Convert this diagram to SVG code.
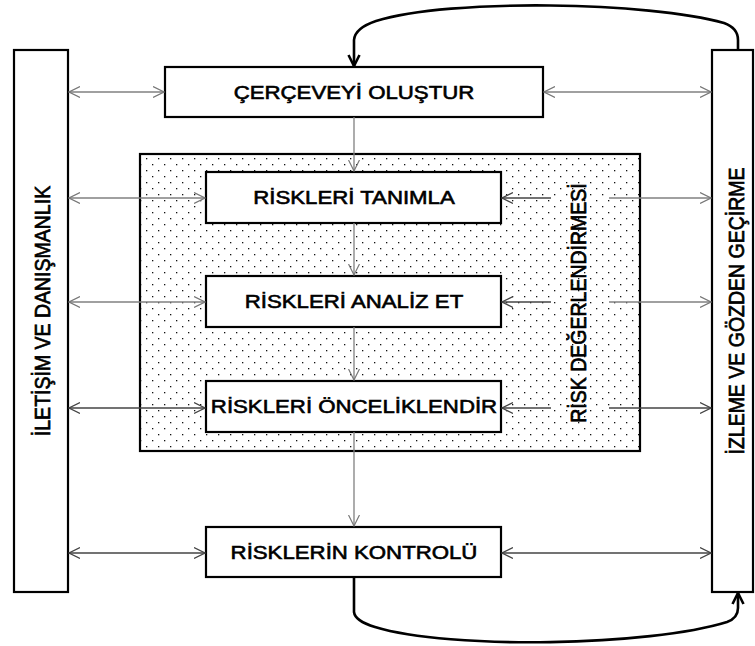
<svg xmlns="http://www.w3.org/2000/svg" width="755" height="646" viewBox="0 0 755 646">
  <defs>
    <pattern id="stipple" width="12" height="12" patternUnits="userSpaceOnUse">
      <rect width="12" height="12" fill="#ffffff"/>
      <rect x="2" y="2" width="1.3" height="1.3" fill="#111"/>
      <rect x="8" y="8" width="1.3" height="1.3" fill="#111"/>
    </pattern>
    <marker id="chev" viewBox="0 0 12 12" refX="11" refY="6" markerWidth="12" markerHeight="12" markerUnits="userSpaceOnUse" orient="auto-start-reverse">
      <path d="M0,0.5 L11,6 L0,11.5" fill="none" stroke="#777" stroke-width="1.2"/>
    </marker>
    <marker id="chevDark" viewBox="0 0 12 12" refX="11" refY="6" markerWidth="12" markerHeight="12" markerUnits="userSpaceOnUse" orient="auto-start-reverse">
      <path d="M0,0.5 L11,6 L0,11.5" fill="none" stroke="#444" stroke-width="1.2"/>
    </marker>
    <marker id="bold" viewBox="0 0 14 14" refX="12" refY="7" markerWidth="14" markerHeight="14" markerUnits="userSpaceOnUse" orient="auto">
      <path d="M1,1.5 L12,7 L1,12.5" fill="none" stroke="#000" stroke-width="2.6"/>
    </marker>
  </defs>
  <style>
    .box { fill: #ffffff; stroke: #000; stroke-width: 2.2; }
    .zone { fill: url(#stipple); stroke: #000; stroke-width: 2.2; }
    .lbl { font-family: "Liberation Sans", Arial, sans-serif; font-weight: normal; font-size: 19px; fill: #000; stroke: #000; stroke-width: 0.6; }
    .vlbl { font-size: 19.5px; }
    .link { fill: none; stroke: #808080; stroke-width: 1.3; }
    .linkDark { fill: none; stroke: #444; stroke-width: 1.3; }
    .loop { fill: none; stroke: #000; stroke-width: 2.6; }
  </style>

  <!-- risk assessment zone -->
  <g id="risk-degerlendirmesi">
    <rect class="zone" x="140" y="154" width="500" height="297"/>
    <text class="lbl vlbl" text-anchor="middle" transform="translate(586,303) scale(1.17,1) rotate(-90)">RİSK DEĞERLENDİRMESİ</text>
  </g>

  <!-- side columns -->
  <g id="iletisim">
    <rect class="box" x="14" y="50" width="54" height="542"/>
    <text class="lbl vlbl" text-anchor="middle" transform="translate(50,311) scale(1.17,1) rotate(-90)">İLETİŞİM VE DANIŞMANLIK</text>
  </g>
  <g id="izleme">
    <rect class="box" x="712" y="50" width="41" height="542"/>
    <text class="lbl vlbl" text-anchor="middle" transform="translate(744,311) scale(1.17,1) rotate(-90)">İZLEME VE GÖZDEN GEÇİRME</text>
  </g>

  <!-- process steps -->
  <g id="cerceve">
    <rect class="box" x="165" y="67" width="378" height="50"/>
    <text class="lbl" text-anchor="middle" transform="translate(354,99) scale(1.17,1)">ÇERÇEVEYİ OLUŞTUR</text>
  </g>
  <g id="tanimla">
    <rect class="box" x="206" y="172" width="295" height="51"/>
    <text class="lbl" text-anchor="middle" transform="translate(354,204) scale(1.17,1)">RİSKLERİ TANIMLA</text>
  </g>
  <g id="analiz">
    <rect class="box" x="206" y="276" width="295" height="51"/>
    <text class="lbl" text-anchor="middle" transform="translate(354,308) scale(1.17,1)">RİSKLERİ ANALİZ ET</text>
  </g>
  <g id="onceliklendir">
    <rect class="box" x="206" y="381" width="295" height="51"/>
    <text class="lbl" text-anchor="middle" transform="translate(354,413) scale(1.17,1)">RİSKLERİ ÖNCELİKLENDİR</text>
  </g>
  <g id="kontrol">
    <rect class="box" x="206" y="527" width="295" height="50"/>
    <text class="lbl" text-anchor="middle" transform="translate(354,559) scale(1.17,1)">RİSKLERİN KONTROLÜ</text>
  </g>

  <!-- connectors -->
  <g id="connectors">
    <!-- main flow -->
    <line class="link" x1="354" y1="117" x2="354" y2="171" marker-end="url(#chev)"/>
    <line class="link" x1="354" y1="223" x2="354" y2="275" marker-end="url(#chev)"/>
    <line class="link" x1="354" y1="327" x2="354" y2="380" marker-end="url(#chev)"/>
    <line class="link" x1="354" y1="432" x2="354" y2="526" marker-end="url(#chev)"/>

    <!-- communication side -->
    <line class="link" x1="69" y1="92" x2="164" y2="92" marker-start="url(#chev)" marker-end="url(#chev)"/>
    <line class="link" x1="69" y1="198" x2="205" y2="198" marker-start="url(#chev)" marker-end="url(#chev)"/>
    <line class="link" x1="69" y1="302" x2="205" y2="302" marker-start="url(#chev)" marker-end="url(#chev)"/>
    <line class="linkDark" x1="69" y1="408" x2="205" y2="408" marker-start="url(#chevDark)" marker-end="url(#chevDark)"/>
    <line class="linkDark" x1="69" y1="553" x2="205" y2="553" marker-start="url(#chevDark)" marker-end="url(#chevDark)"/>

    <!-- monitoring side -->
    <line class="link" x1="544" y1="92" x2="711" y2="92" marker-start="url(#chev)" marker-end="url(#chev)"/>
    <line class="linkDark" x1="502" y1="198" x2="551" y2="198" marker-start="url(#chevDark)"/>
    <line class="link" x1="609" y1="198" x2="711" y2="198" marker-end="url(#chev)"/>
    <line class="linkDark" x1="502" y1="302" x2="551" y2="302" marker-start="url(#chevDark)"/>
    <line class="link" x1="609" y1="302" x2="711" y2="302" marker-end="url(#chev)"/>
    <line class="linkDark" x1="502" y1="408" x2="551" y2="408" marker-start="url(#chevDark)"/>
    <line class="linkDark" x1="609" y1="408" x2="711" y2="408" marker-end="url(#chevDark)"/>
    <line class="linkDark" x1="502" y1="553" x2="711" y2="553" marker-start="url(#chevDark)" marker-end="url(#chevDark)"/>

    <!-- feedback loops -->
    <path class="loop" d="M738,50 L738,40 Q738,28 724,23 C650,2 450,-2 376,21 Q355,28 354,40 L354,66" marker-end="url(#bold)"/>
    <path class="loop" d="M354,577 L354,612 Q355,621 375,627 C450,650 650,646 727,622 Q738,618 738,608 L738,593" marker-end="url(#bold)"/>
  </g>
</svg>
